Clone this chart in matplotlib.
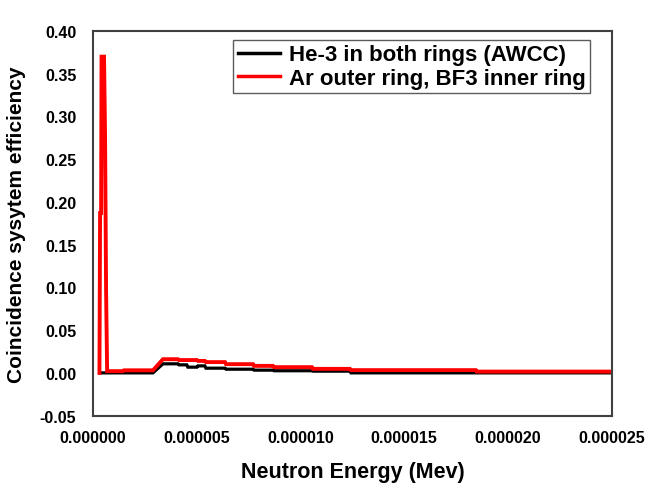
import matplotlib
matplotlib.use("Agg")
import matplotlib.pyplot as plt
from matplotlib.ticker import FuncFormatter, MultipleLocator

# Neutron energy (MeV) and coincidence efficiency
red_E = [3.1e-7, 3.4e-7, 3.9e-7, 4.1e-7, 5.3e-7, 5.8e-7, 6.3e-7, 6.8e-7, 1.44e-6, 1.49e-6,
         2.89e-6, 3.37e-6, 4.09e-6, 4.14e-6, 5.01e-6, 5.06e-6, 5.39e-6, 5.44e-6,
         6.36e-6, 6.41e-6, 7.71e-6, 7.76e-6, 8.67e-6, 8.72e-6, 1.055e-5, 1.060e-5,
         1.238e-5, 1.243e-5, 1.845e-5, 1.850e-5, 2.50e-5]
red_eff = [0.0, 0.187, 0.187, 0.37, 0.37, 0.278, 0.095, 0.002, 0.002, 0.003,
           0.003, 0.016, 0.016, 0.015, 0.015, 0.014, 0.014, 0.0126,
           0.0126, 0.0102, 0.0102, 0.0082, 0.0082, 0.0067, 0.0067, 0.0047,
           0.0047, 0.0032, 0.0032, 0.0015, 0.0015]

black_E = [3.4e-7, 2.89e-6, 3.37e-6, 4.09e-6, 4.14e-6, 4.52e-6, 4.57e-6, 5.01e-6,
           5.06e-6, 5.39e-6, 5.44e-6, 6.36e-6, 6.41e-6, 7.71e-6, 7.76e-6, 8.67e-6,
           8.72e-6, 1.055e-5, 1.060e-5, 1.238e-5, 1.243e-5, 1.845e-5, 1.850e-5, 2.50e-5]
black_eff = [0.0, 0.0, 0.0106, 0.0106, 0.0094, 0.0094, 0.0067, 0.0067,
             0.0082, 0.0082, 0.0055, 0.0055, 0.0043, 0.0043, 0.0032, 0.0032,
             0.0025, 0.0025, 0.002, 0.002, 0.0, 0.0, 0.0, 0.0]

labels = ["He-3 in both rings (AWCC)", "Ar outer ring, BF3 inner ring"]

plt.rcParams['font.family'] = ['Liberation Sans', 'DejaVu Sans']
fig = plt.figure(figsize=(6.46, 4.85), dpi=100)
ax = fig.add_axes([0.144, 0.141, 0.803, 0.793])

ax.plot(black_E, black_eff, color='black', lw=2.3, label=labels[0], solid_joinstyle='miter')
ax.plot(red_E, red_eff, color='#ff0000', lw=2.8, label=labels[1], solid_joinstyle='miter')

ax.set_xlim(0, 2.5e-5)
ax.set_ylim(-0.05, 0.40)
ax.xaxis.set_major_locator(MultipleLocator(5e-6))
ax.yaxis.set_major_locator(MultipleLocator(0.05))
ax.xaxis.set_major_formatter(FuncFormatter(lambda v, p: f"{v:.6f}"))
ax.yaxis.set_major_formatter(FuncFormatter(lambda v, p: f"{v:.2f}"))
ax.tick_params(axis='both', length=0, labelsize=11.6)
ax.tick_params(axis='y', pad=12)
ax.tick_params(axis='x', pad=10)
for lab in ax.get_xticklabels() + ax.get_yticklabels():
    lab.set_fontweight('bold')

for s in ax.spines.values():
    s.set_color('#404040')
    s.set_linewidth(1.5)

ax.set_xlabel("Neutron Energy (Mev)", fontsize=15.5, fontweight='bold', labelpad=12)
ax.set_ylabel("Coincidence sysytem efficiency", fontsize=15, fontweight='bold', labelpad=10)

leg = ax.legend(loc='upper right', bbox_to_anchor=(0.958, 0.977),
                prop={'weight': 'bold', 'size': 16}, frameon=True, fancybox=False,
                handlelength=1.9, handletextpad=0.4, borderpad=0.2, labelspacing=0.1,
                borderaxespad=0.0)
leg.get_frame().set_edgecolor('#333333')
leg.get_frame().set_linewidth(1.0)
for h in leg.get_lines():
    h.set_linewidth(2.5)

fig.savefig("out.png", dpi=100)
